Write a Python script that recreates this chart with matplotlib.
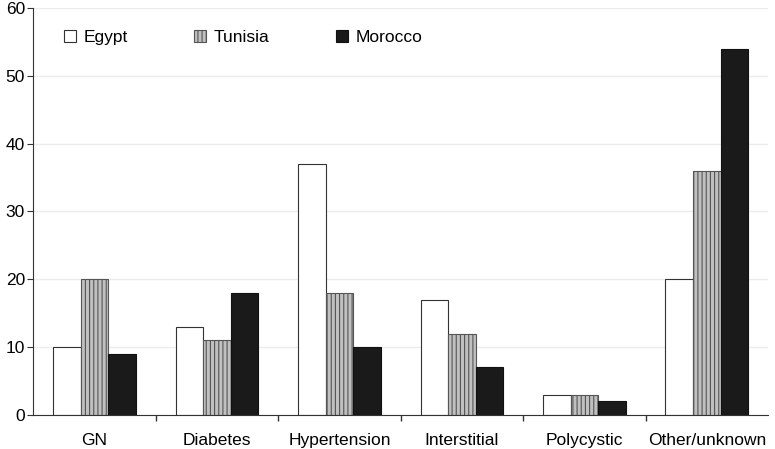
import matplotlib.pyplot as plt
import numpy as np

# causes of ESRD, percent
categories = ['GN', 'Diabetes', 'Hypertension', 'Interstitial', 'Polycystic', 'Other/unknown']
egypt = [10, 13, 37, 17, 3, 20]
tunisia = [20, 11, 18, 12, 3, 36]
morocco = [9, 18, 10, 7, 2, 54]

plt.rcParams['font.family'] = ['Liberation Sans', 'DejaVu Sans']
plt.rcParams['hatch.color'] = '#555555'
plt.rcParams['hatch.linewidth'] = 0.8

fig = plt.figure(figsize=(7.75, 4.49), dpi=100)
ax = fig.add_axes([0.043, 0.076, 0.948, 0.906])

x = np.arange(len(categories))
w = 0.225
ax.bar(x - w, egypt, w, color='white', edgecolor='#333333', linewidth=0.8, label='Egypt', zorder=2)
ax.bar(x, tunisia, w, color='#c0c0c0', edgecolor='#555555', hatch='||||', linewidth=0.8, label='Tunisia', zorder=2)
ax.bar(x + w, morocco, w, color='#1a1a1a', edgecolor='#111111', linewidth=0.8, label='Morocco', zorder=2)

ax.set_xlim(-0.5, len(categories) - 0.5)
ax.set_ylim(0, 60)
ax.set_yticks(range(0, 61, 10))
ax.set_xticks(x)
ax.set_xticklabels(categories, fontsize=12.5)
ax.set_xticks(np.arange(0.5, len(categories) - 0.5, 1), minor=True)
ax.tick_params(axis='x', which='major', length=0, pad=13)
ax.tick_params(axis='x', which='minor', length=4, width=1, color='#333333')
ax.tick_params(axis='y', labelsize=12.5, length=4, color='#333333', pad=2)

ax.yaxis.grid(True, color='#ececec', linewidth=1, zorder=0)
ax.set_axisbelow(True)
for s in ['top', 'right']:
    ax.spines[s].set_visible(False)
ax.spines['left'].set_color('#333333')
ax.spines['bottom'].set_color('#333333')

ax.legend(loc='upper left', bbox_to_anchor=(0.02, 0.985), ncol=3, frameon=False,
          fontsize=12.5, handlelength=0.7, handleheight=0.7, handletextpad=0.45,
          columnspacing=3.8)

fig.savefig('out.png', dpi=100)
